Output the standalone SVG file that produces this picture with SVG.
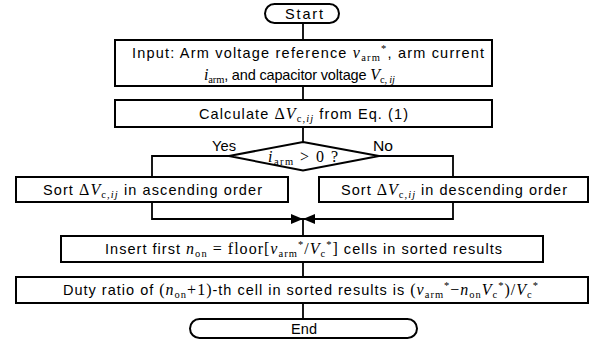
<svg xmlns="http://www.w3.org/2000/svg" width="590" height="340" viewBox="0 0 590 340">
  <defs>
    <style>
      .box { fill: #ffffff; stroke: #000000; stroke-width: 2; }
      .wire { fill: none; stroke: #000000; stroke-width: 1.8; }
      .t { font-family: "Liberation Sans", Arial, sans-serif; font-size: 14.5px; fill: #000000; }
      .m { font-family: "Liberation Serif", "Times New Roman", serif; font-size: 16px; }
      .mi { font-family: "Liberation Serif", "Times New Roman", serif; font-size: 16px; font-style: italic; }
      .s { font-family: "Liberation Serif", "Times New Roman", serif; font-size: 10.5px; font-style: normal; }
      .si { font-family: "Liberation Serif", "Times New Roman", serif; font-size: 10.5px; font-style: italic; }
    </style>
    <marker id="arrow" viewBox="0 0 12 10" refX="12" refY="5" markerWidth="12" markerHeight="10" markerUnits="userSpaceOnUse" orient="auto">
      <path d="M0,0 L12,5 L0,10 Z" fill="#000000"/>
    </marker>
  </defs>

  <!-- connectors -->
  <g id="connectors">
    <line class="wire" x1="303" y1="23" x2="303" y2="40"/>
    <line class="wire" x1="303" y1="86" x2="303" y2="100"/>
    <line class="wire" x1="303" y1="127" x2="303" y2="142"/>
    <polyline class="wire" points="229,156 152,156 152,177"/>
    <polyline class="wire" points="379,156 453,156 453,177"/>
    <polyline class="wire" points="152,202 152,219 303,219" marker-end="url(#arrow)"/>
    <polyline class="wire" points="453,202 453,219 303,219" marker-end="url(#arrow)"/>
    <line class="wire" x1="303" y1="219" x2="303" y2="236"/>
    <line class="wire" x1="303" y1="262" x2="303" y2="277"/>
    <line class="wire" x1="303" y1="303" x2="303" y2="319"/>
    <text class="t" x="212" y="151" textLength="24" lengthAdjust="spacingAndGlyphs">Yes</text>
    <text class="t" x="373" y="151" textLength="20" lengthAdjust="spacingAndGlyphs">No</text>
  </g>

  <g id="start">
    <rect class="box" x="265" y="4" width="74" height="19" rx="9.5" ry="9.5"/>
    <text class="t" x="285" y="18.5" textLength="38">Start</text>
  </g>

  <g id="input">
    <rect class="box" x="115" y="40" width="377" height="46"/>
    <text class="t" x="132" y="58" textLength="352">Input: Arm voltage reference <tspan class="mi">v</tspan><tspan class="s" dy="3">arm</tspan><tspan class="s" dy="-9">*</tspan><tspan dy="6">, arm current</tspan></text>
    <text class="t" x="204" y="80" textLength="191"><tspan class="mi">i</tspan><tspan class="s" dy="3">arm</tspan><tspan dy="-3">, and capacitor voltage </tspan><tspan class="mi">V</tspan><tspan class="s" dy="3">c, </tspan><tspan class="si">ij</tspan></text>
  </g>

  <g id="calculate">
    <rect class="box" x="115" y="100" width="377" height="27"/>
    <text class="t" x="199" y="118.5" textLength="209">Calculate  <tspan class="m">Δ</tspan><tspan class="mi">V</tspan><tspan class="s" dy="3">c,</tspan><tspan class="si">ij</tspan><tspan dy="-3"> from Eq. (1)</tspan></text>
  </g>

  <g id="decision">
    <polygon class="box" points="303,142 379,156 303,170.5 229,156"/>
    <text class="m" x="268" y="162" textLength="70"><tspan class="mi">i</tspan><tspan class="s" dy="3">arm</tspan><tspan dy="-3"> &gt; 0 ?</tspan></text>
  </g>

  <g id="sort-asc">
    <rect class="box" x="16" y="177" width="272" height="25"/>
    <text class="t" x="43" y="194.5" textLength="219">Sort <tspan class="m">Δ</tspan><tspan class="mi">V</tspan><tspan class="s" dy="3">c,</tspan><tspan class="si">ij</tspan><tspan dy="-3"> in ascending order</tspan></text>
  </g>

  <g id="sort-desc">
    <rect class="box" x="319" y="177" width="269" height="25"/>
    <text class="t" x="341" y="194.5" textLength="226">Sort <tspan class="m">Δ</tspan><tspan class="mi">V</tspan><tspan class="s" dy="3">c,</tspan><tspan class="si">ij</tspan><tspan dy="-3"> in descending order</tspan></text>
  </g>

  <g id="insert">
    <rect class="box" x="61" y="236" width="482" height="26"/>
    <text class="t" x="105" y="254" textLength="397">Insert first <tspan class="mi">n</tspan><tspan class="s" dy="3">on</tspan><tspan class="m" dy="-3"> = floor[</tspan><tspan class="mi">v</tspan><tspan class="s" dy="3">arm</tspan><tspan class="s" dy="-9">*</tspan><tspan class="m" dy="6">/</tspan><tspan class="mi">V</tspan><tspan class="s" dy="3">c</tspan><tspan class="s" dy="-9">*</tspan><tspan class="m" dy="6">]</tspan> cells in sorted results</text>
  </g>

  <g id="duty">
    <rect class="box" x="16" y="277" width="572" height="26"/>
    <text class="t" x="63" y="295" textLength="475">Duty ratio of <tspan class="m">(</tspan><tspan class="mi">n</tspan><tspan class="s" dy="3">on</tspan><tspan class="m" dy="-3">+1)</tspan>-th cell in sorted results is <tspan class="m">(</tspan><tspan class="mi">v</tspan><tspan class="s" dy="3">arm</tspan><tspan class="s" dy="-9">*</tspan><tspan class="m" dy="6">−</tspan><tspan class="mi">n</tspan><tspan class="s" dy="3">on</tspan><tspan class="mi" dy="-3">V</tspan><tspan class="s" dy="3">c</tspan><tspan class="s" dy="-9">*</tspan><tspan class="m" dy="6">)/</tspan><tspan class="mi">V</tspan><tspan class="s" dy="3">c</tspan><tspan class="s" dy="-9">*</tspan></text>
  </g>

  <g id="end">
    <rect class="box" x="190" y="319" width="227" height="19" rx="9.5" ry="9.5"/>
    <text class="t" x="291" y="333.5" textLength="26">End</text>
  </g>
</svg>
